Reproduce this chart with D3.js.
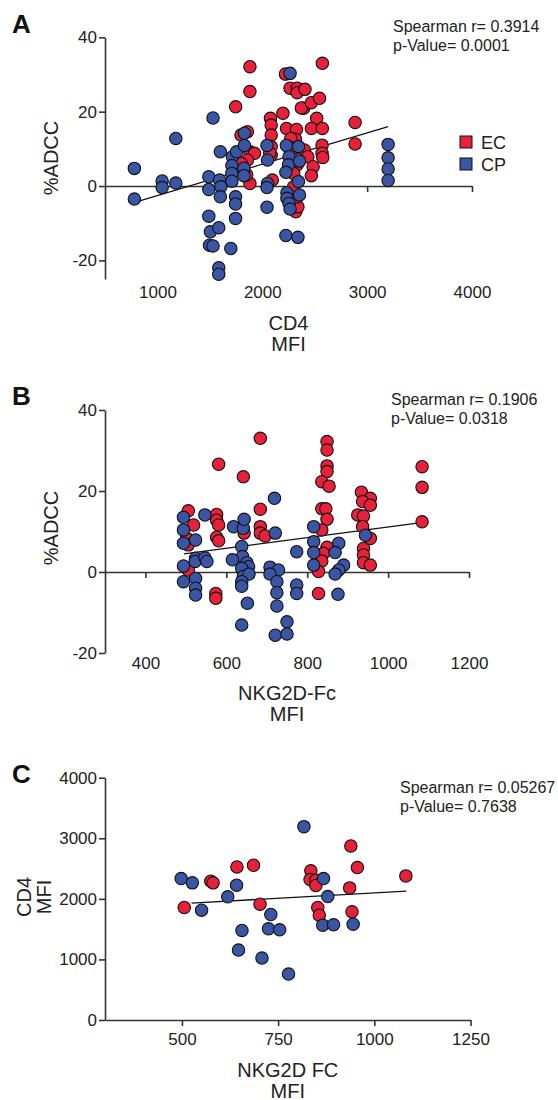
<!DOCTYPE html>
<html>
<head>
<meta charset="utf-8">
<script src="https://cdnjs.cloudflare.com/ajax/libs/d3/7.8.5/d3.min.js"></script>
<style>
    body { margin: 0; background: #fff; }
    svg { display: block; font-family: "Liberation Sans", Arial, sans-serif; }
    .axis path, .axis line { stroke: #333; stroke-width: 1.6; }
    .axis text { font-size: 17px; fill: #222; font-family: "Liberation Sans", Arial, sans-serif; }
    .title { font-size: 20px; fill: #222; }
    .stat { font-size: 16px; fill: #222; }
    .letter { font-size: 26px; font-weight: bold; fill: #111; }
    .legend { font-size: 18px; fill: #222; }
</style>
</head>
<body>
<div id="chart"></div>
<script>
// Colours
const RED = '#e8203a';
const BLUE = '#3a55a4';

// Panel A: CD4 MFI vs %ADCC
const aEC = [
    [1882,32.1],[1882,25.4],[1746,21.3],[1797,13.7],[1858,14.6],[1882,9.2],[1926,8.8],[1858,7.0],[1797,6.1],
    [1882,0.7],[1851,3.0],[2078,18.2],[2085,16.4],[2085,13.7],[2085,10.6],[2085,8.3],[2095,1.6],[2071,8.9],
    [2197,19.6],[2221,30.1],[2265,26.3],[2333,26.3],[2333,25.1],[2407,26.0],[2394,20.9],[2372,21.0],[2468,22.4],
    [2546,23.6],[2573,33.0],[2519,18.2],[2468,15.5],[2573,15.5],[2231,15.5],[2326,15.2],[2316,12.6],[2272,12.8],
    [2248,10.6],[2299,10.1],[2401,9.7],[2434,7.9],[2333,5.7],[2485,5.2],[2468,2.8],[2299,3.4],[2570,11.0],
    [2570,8.8],[2577,7.7],[2885,17.1],[2885,11.3],[2319,-6.9],[2340,-5.6],[2333,-2.9],[2299,-0.2]
];
const aCP = [
    [780,4.75],[780,-3.5],[1045,1.35],[1045,-0.4],[1175,12.8],[1175,0.8],[1530,18.3],[1490,2.5],[1490,-0.9],
    [1600,9.2],[1593,1.6],[1605,-0.2],[1600,-2.9],[1490,-8.1],[1505,-12.3],[1585,-11.2],[1497,-15.9],[1530,-16.1],
    [1700,-16.8],[1585,-22.0],[1585,-23.7],[1715,7.9],[1710,5.5],[1710,3.4],[1710,1.3],[1755,9.2],[1745,-2.9],
    [1745,-4.8],[1745,-8.7],[1830,14.2],[1830,10.9],[1825,4.8],[1825,2.8],[2045,10.9],[2050,7.0],[2050,0.7],
    [2045,-0.4],[2045,-5.7],[2230,10.9],[2255,7.9],[2250,5.7],[2225,3.7],[2235,-1.8],[2235,-3.3],[2255,-4.7],
    [2265,-6.2],[2225,-13.3],[2340,-13.8],[2265,30.3],[2345,10.6],[2355,6.7],[2345,1.2],[2355,-2.4],
    [3200,11.2],[3200,7.6],[3200,4.6],[3200,1.5]
];
const aFit = [[830,-4.0],[3200,16.0]];
const aXTicks = [1000,2000,3000,4000];
const aYTicks = [-20,0,20,40];

// Panel B: NKG2D-Fc MFI vs %ADCC
const bEC = [
    [684,33.0],[581,26.6],[642,23.5],[684,15.5],[506,15.1],[576,14.2],[576,12.8],[581,11.6],[519,11.6],
    [576,8.6],[581,7.7],[502,8.3],[506,6.7],[644,9.6],[684,11.2],[684,9.6],[696,8.9],[506,0.5],[574,-5.3],
    [574,-6.5],[849,32.2],[849,30.1],[849,26.2],[849,24.8],[836,22.3],[854,21.2],[836,15.6],[846,15.6],
    [849,13.0],[836,10.4],[849,6.1],[840,4.6],[836,2.7],[828,0.1],[828,-5.3],[934,19.7],[956,18.2],
    [937,17.4],[956,16.5],[925,14.1],[939,13.8],[937,11.2],[956,8.3],[939,5.8],[939,4.2],[939,2.3],
    [956,1.7],[1084,26.0],[1084,20.9],[1084,12.4]
];
const bCP = [
    [494,13.5],[494,10.4],[494,7.1],[547,14.1],[524,7.9],[524,3.4],[523,2.6],[547,3.5],[552,2.6],[494,1.5],
    [494,-2.4],[524,-1.6],[524,-4.0],[524,-5.7],[618,11.2],[642,10.8],[644,13.0],[638,6.3],[640,3.8],
    [651,2.3],[615,3.0],[655,1.3],[638,0.9],[642,-1.1],[656,-0.5],[638,-2.4],[638,-3.5],[652,-7.7],
    [638,-13.1],[719,18.2],[721,9.6],[708,1.2],[729,0.5],[708,-0.5],[725,-2.4],[725,-5.1],[725,-8.4],
    [721,-15.6],[750,-12.3],[750,-15.3],[774,5.0],[774,-3.2],[774,-5.3],[816,11.2],[816,7.5],[816,4.8],
    [816,1.7],[878,7.1],[869,4.8],[890,1.7],[878,0.5],[869,-0.5],[876,-5.5],[944,9.1]
];
const bFit = [[495,4.5],[1082,12.2]];
const bXTicks = [400,600,800,1000,1200];
const bYTicks = [-20,0,20,40];

// Panel C: NKG2D FC MFI vs CD4 MFI
const cEC = [
    [506,1857],[575,2291],[581,2264],[643,2527],[686,2555],[703,1912],[835,2462],[833,2319],[848,2308],
    [848,2220],[853,1857],[857,1731],[939,2874],[956,2516],[936,2181],[942,1786],[1082,2379]
];
const cCP = [
    [498,2335],[527,2264],[551,1813],[619,2033],[642,2225],[656,1478],[647,1154],[708,1022],[731,1742],
    [725,1505],[754,1489],[777,758],[817,3192],[868,2335],[879,2038],[866,1566],[894,1571],[945,1582]
];
const cFit = [[525,1930],[1083,2128]];
const cXTicks = [500,750,1000,1250];
const cYTicks = [0,1000,2000,3000,4000];

const svg = d3.select('#chart').append('svg')
    .attr('width', 558)
    .attr('height', 1100);

function drawPanel(p) {
    const g = svg.append('g');
    const x = d3.scaleLinear().domain(p.xDomain).range([105, p.xEnd]);
    const y = d3.scaleLinear().domain(p.yDomain).range([p.yBottom, p.yTop]);
    const fmt = d => String(d);

    // y axis
    g.append('g')
        .attr('class', 'axis')
        .attr('transform', 'translate(105,0)')
        .call(d3.axisLeft(y).tickValues(p.yTicks).tickSize(6).tickSizeOuter(0).tickPadding(2).tickFormat(fmt));

    // x axis line at y = 0, ticks only
    const zeroY = y(Math.max(0, p.yDomain[0]));
    g.append('g')
        .attr('class', 'axis')
        .attr('transform', `translate(0,${zeroY})`)
        .call(d3.axisBottom(x).tickValues(p.xTicks).tickSize(6).tickSizeOuter(0).tickFormat(''));

    // x tick labels below the plot
    g.append('g')
        .attr('class', 'axis')
        .attr('transform', `translate(0,${p.labelY})`)
        .call(d3.axisBottom(x).tickValues(p.xTicks).tickSize(0).tickPadding(0).tickFormat(fmt))
        .call(a => a.select('.domain').remove());

    // regression line
    g.append('path')
        .datum(p.fit)
        .attr('fill', 'none')
        .attr('stroke', '#111')
        .attr('stroke-width', 1.3)
        .attr('d', d3.line().x(d => x(d[0])).y(d => y(d[1])));

    // points
    [[p.ec, RED], [p.cp, BLUE]].forEach(([pts, col]) => {
        g.append('g').selectAll('circle')
            .data(pts)
            .join('circle')
                .attr('cx', d => x(d[0]))
                .attr('cy', d => y(d[1]))
                .attr('r', 6.2)
                .attr('fill', col)
                .attr('stroke', '#111')
                .attr('stroke-width', 1.1);
    });

    // axis titles
    const midX = (105 + p.xEnd) / 2;
    p.xTitle.forEach((t, i) => {
        g.append('text').attr('class', 'title')
            .attr('x', midX).attr('y', p.xTitleY + i * 20.5)
            .attr('text-anchor', 'middle').text(t);
    });
    p.yTitle.forEach((t, i) => {
        g.append('text').attr('class', 'title')
            .attr('text-anchor', 'middle')
            .attr('transform', `translate(${p.yTitleX[i]},${p.yTitleMid}) rotate(-90)`)
            .text(t);
    });

    // panel letter and stats
    g.append('text').attr('class', 'letter').attr('x', 12).attr('y', p.letterY).text(p.letter);
    p.stats.forEach((t, i) => {
        g.append('text').attr('class', 'stat')
            .attr('x', p.statX).attr('y', p.statY + i * 18.5).text(t);
    });
}

drawPanel({
    letter: 'A', letterY: 33,
    xDomain: [500, 4000], xEnd: 472, yDomain: [-25, 40], yTop: 37.3, yBottom: 279,
    xTicks: aXTicks, yTicks: aYTicks, labelY: 286,
    ec: aEC, cp: aCP, fit: aFit,
    xTitle: ['CD4', 'MFI'], xTitleY: 330,
    yTitle: ['%ADCC'], yTitleX: [58], yTitleMid: 158,
    stats: ['Spearman r= 0.3914', 'p-Value= 0.0001'], statX: 393, statY: 32
});

drawPanel({
    letter: 'B', letterY: 405,
    xDomain: [300, 1200], xEnd: 469, yDomain: [-20, 40], yTop: 410, yBottom: 653,
    xTicks: bXTicks, yTicks: bYTicks, labelY: 657,
    ec: bEC, cp: bCP, fit: bFit,
    xTitle: ['NKG2D-Fc', 'MFI'], xTitleY: 700,
    yTitle: ['%ADCC'], yTitleX: [58], yTitleMid: 528,
    stats: ['Spearman r= 0.1906', 'p-Value= 0.0318'], statX: 391, statY: 405
});

drawPanel({
    letter: 'C', letterY: 783,
    xDomain: [300, 1250], xEnd: 470.5, yDomain: [0, 4000], yTop: 777.7, yBottom: 1020,
    xTicks: cXTicks, yTicks: cYTicks, labelY: 1033,
    ec: cEC, cp: cCP, fit: cFit,
    xTitle: ['NKG2D FC', 'MFI'], xTitleY: 1077,
    yTitle: ['CD4', 'MFI'], yTitleX: [31, 51], yTitleMid: 897,
    stats: ['Spearman r= 0.05267', 'p-Value= 0.7638'], statX: 400, statY: 793
});

// Legend (panel A)
const legendItems = [['EC', RED], ['CP', BLUE]];
const legend = svg.append('g').attr('transform', 'translate(460,136)');
legendItems.forEach(([name, col], i) => {
    legend.append('rect')
        .attr('x', 0).attr('y', i * 22)
        .attr('width', 12).attr('height', 12)
        .attr('fill', col).attr('stroke', '#111').attr('stroke-width', 1);
    legend.append('text').attr('class', 'legend')
        .attr('x', 21).attr('y', i * 22 + 12.5).text(name);
});
</script>
</body>
</html>
